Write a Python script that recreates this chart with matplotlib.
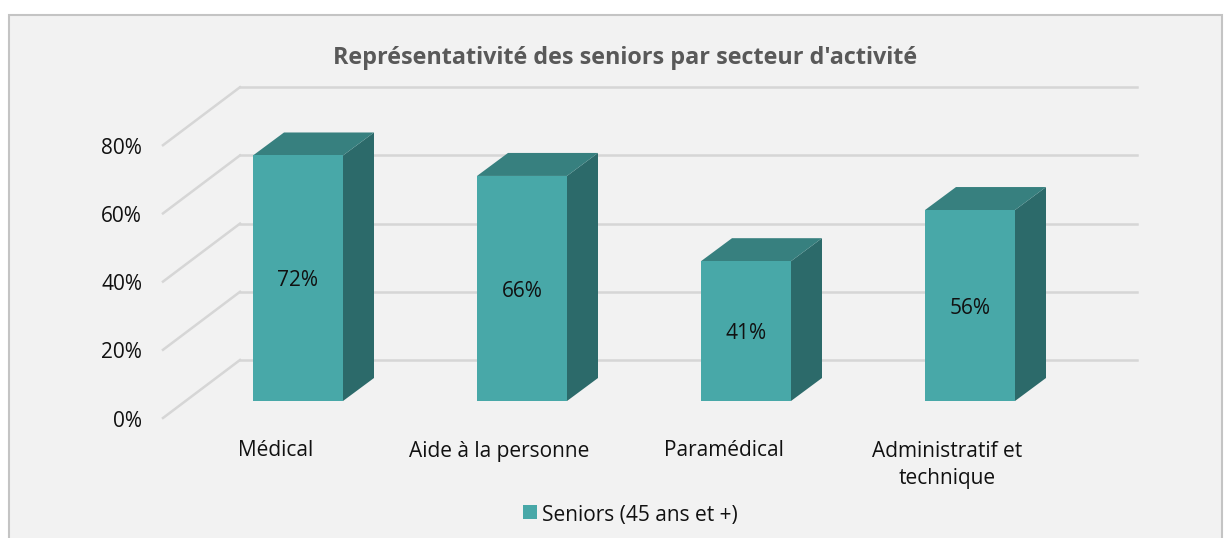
import matplotlib
matplotlib.use('Agg')
from matplotlib import pyplot as plt
from matplotlib.patches import Polygon, Rectangle

plt.rcParams['font.family'] = ['Open Sans', 'DejaVu Sans']

title = "Représentativité des seniors par secteur d'activité"
categories = ['Médical', 'Aide à la personne', 'Paramédical', 'Administratif et\ntechnique']
values = [72, 66, 41, 56]
y_ticks = [0, 20, 40, 60, 80]
legend_label = 'Seniors (45 ans et +)'

W, H = 1229, 538
PX_PER_PCT = 3.41
PX_PER_CAT = 224.0
DEPTH_X, DEPTH_Y = 31 / PX_PER_CAT, 23 / PX_PER_PCT
WALL_X, WALL_Y = 77 / PX_PER_CAT, 58 / PX_PER_PCT
BAR_W = 90 / PX_PER_CAT


def cx(px):
    return (px - 298) / PX_PER_CAT


def cy(py):
    return (401 - py) / PX_PER_PCT


fig = plt.figure(figsize=(W / 100, H / 100), dpi=100, facecolor='white')
ax = fig.add_axes([0, 0, 1, 1])
ax.set_xlim(cx(0), cx(W))
ax.set_ylim(cy(H), cy(0))
ax.axis('off')

# chart frame, runs off the bottom of the picture
ax.add_patch(Rectangle((cx(9), cy(550)), cx(1222) - cx(9), cy(15) - cy(550),
                       fc='#f2f2f2', ec='#c4c4c4', lw=1.5, zorder=0))

# grid: side wall + back wall
x_front, y_front = cx(163), cy(418)
x_back, x_end = x_front + WALL_X, cx(1137)
for t in y_ticks:
    y0 = y_front + t
    y1 = y0 + WALL_Y
    ax.plot([x_front, x_back], [y0, y1], color='#d6d6d6', lw=1.8, zorder=1)
    ax.plot([x_back, x_end], [y1, y1], color='#d6d6d6', lw=1.8, zorder=1)
    ax.text(cx(142), y0 - 0.9, '%d%%' % t, ha='right', va='center', fontsize=15, color='#111111')

# bars
for i, v in enumerate(values):
    l = i - BAR_W / 2
    r = i + BAR_W / 2
    ax.add_patch(Polygon([(r, 0), (r + DEPTH_X, DEPTH_Y), (r + DEPTH_X, v + DEPTH_Y), (r, v)],
                         fc='#2c6a6a', ec='none', zorder=2))
    ax.add_patch(Polygon([(l, v), (r, v), (r + DEPTH_X, v + DEPTH_Y), (l + DEPTH_X, v + DEPTH_Y)],
                         fc='#37807f', ec='none', zorder=2))
    ax.bar(i, v, width=BAR_W, color='#48a8a8', zorder=3)
    ax.text(i, v / 2 - 0.8, '%d%%' % v, ha='center', va='center', fontsize=15, color='#111111', zorder=4)

for i, name in enumerate(categories):
    py = 465 if '\n' in name else 451
    ax.text(i - 0.1, cy(py), name, ha='center', va='center',
            fontsize=15, color='#111111', linespacing=1.39)

ax.text(cx(625), cy(58), title, ha='center', va='center', fontsize=16.8,
        fontweight='bold', color='#595959')

# legend
ax.add_patch(Rectangle((cx(523), cy(519)), cx(537) - cx(523), cy(505) - cy(519),
                       fc='#48a8a8', ec='none'))
ax.text(cx(542), cy(515), legend_label, ha='left', va='center', fontsize=15, color='#111111')

fig.savefig('out.png', dpi=100, facecolor='white')
